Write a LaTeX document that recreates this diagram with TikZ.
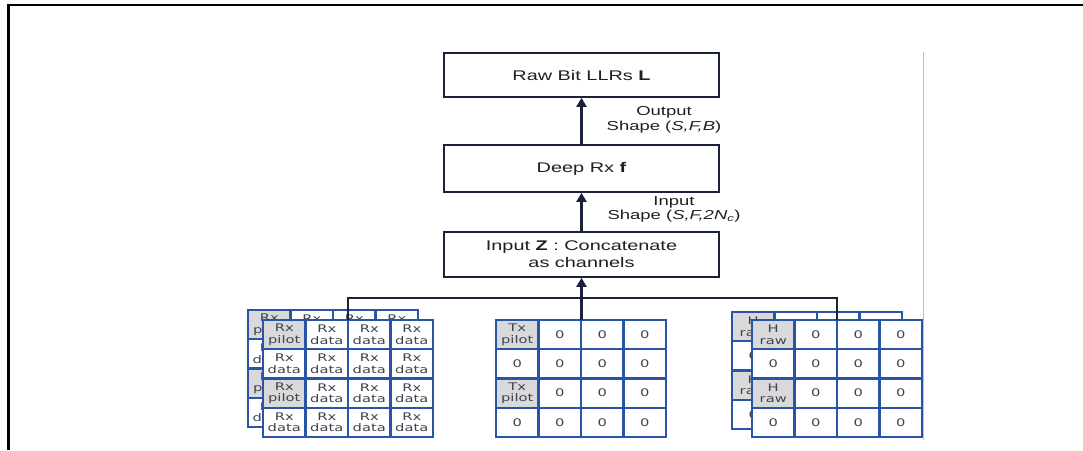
\documentclass[tikz,border=0pt]{standalone}
\usepackage{fontspec}
\setmainfont{Liberation Sans}
\newfontfamily\boxfont[FakeStretch=1.42]{Liberation Sans}
\newfontfamily\cellfont[FakeStretch=1.4]{DejaVu Sans}
\usetikzlibrary{arrows.meta}
\definecolor{navy}{HTML}{18223A}
\definecolor{gridblue}{HTML}{2A54A6}
\definecolor{pilotgray}{HTML}{D9D9D9}
\definecolor{celltext}{HTML}{40434D}
\tikzset{
  mainbox/.style={draw=navy, line width=1.7pt, minimum width=275pt, fill=white,
    font=\boxfont\fontsize{14}{17}\selectfont, align=center, text=black!88, inner sep=0pt},
  lbl/.style={font=\boxfont\fontsize{13}{14.5}\selectfont, align=center, text=black!88, inner sep=0pt},
  arr/.style={draw=navy, line width=2.4pt, -{Triangle[length=9pt,width=10pt]}},
  bus/.style={draw=navy, line width=2pt},
  cell/.style={draw=gridblue, line width=2.1pt, fill=white, minimum width=42.5pt,
    minimum height=29.25pt, inner sep=0pt, align=center, text=celltext,
    font=\cellfont\fontsize{10.5}{11.5}\selectfont},
  frameline/.style={draw=black, line width=2.6pt}
}
\newcommand\drawgrid[5]{%
  \foreach \ri in {0,...,3}{%
    \foreach \ci in {0,...,3}{%
      \pgfmathtruncatemacro\ispilot{(\ci==0)&&(mod(\ri,2)==0)}%
      \ifnum\ispilot=1
        \node[cell,fill=pilotgray] (#5-\ri-\ci) at ({#1+42.5*\ci+21.25},{#2+29.25*\ri+14.625}) {#3};
      \else
        \node[cell] (#5-\ri-\ci) at ({#1+42.5*\ci+21.25},{#2+29.25*\ri+14.625}) {#4};
      \fi
    }}}
\begin{document}
\begin{tikzpicture}[x=1pt,y=-1pt]
\useasboundingbox (0,0) rectangle (1083,450);
% frame
\draw[frameline] (7,5) -- (1083,5);
\draw[frameline, line width=3pt] (8,3.7) -- (8,450);
\draw[black!25, line width=0.8pt] (923,52) -- (923,440);
% main boxes
\node[mainbox, minimum height=44pt] (llr) at (581.5,75) {Raw Bit LLRs \textbf{L}};
\node[mainbox, minimum height=47pt] (rx) at (581.5,168.5) {Deep Rx \textbf{f}};
\node[mainbox, minimum height=45pt] (inz) at (581.5,254.5) {Input \textbf{Z} : Concatenate\\as channels};
% labels
\node[lbl] (outlbl) at (664,120) {Output\\Shape (\textit{S,F,B})};
\node[lbl] (inlbl) at (674,209.5) {Input\\Shape (\textit{S,F,2N\textsubscript{c}})};
% grids
\drawgrid{248}{310}{Rx\\pilot}{Rx\\data}{rxb}
\drawgrid{263}{320}{Rx\\pilot}{Rx\\data}{rxf}
\drawgrid{496}{320}{Tx\\pilot}{0}{tx}
\drawgrid{732}{312}{H\\raw}{0}{hb}
\drawgrid{752}{320}{H\\raw}{0}{hf}
% connectors
\coordinate (gl) at (348,320);
\coordinate (gm) at (581.5,320);
\coordinate (gr) at (837,320);
\coordinate (busc) at (581.5,298);
\draw[bus] (gl) |- (busc) -| (gr);
\draw[arr] (gm) -- (inz.south);
\draw[arr] (inz.north) -- (rx.south);
\draw[arr] (rx.north) -- (llr.south);
\end{tikzpicture}
\end{document}
